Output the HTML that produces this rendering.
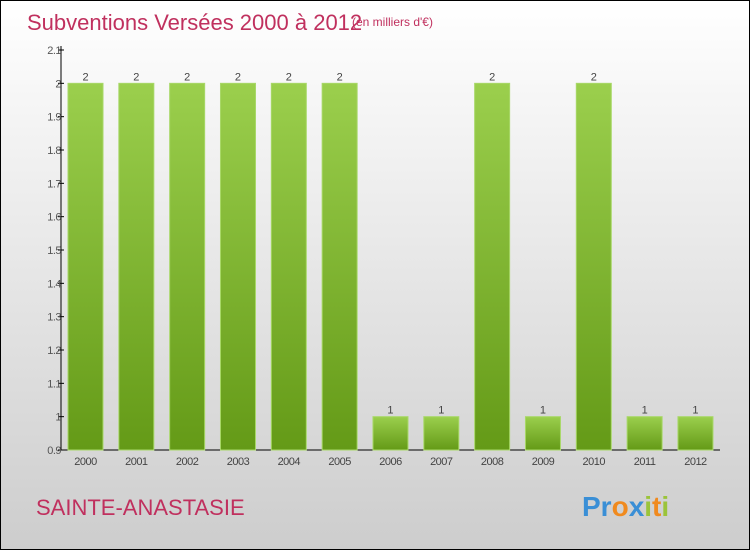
<!DOCTYPE html>
<html><head><meta charset="utf-8"><style>
body{margin:0}
svg{display:block;font-family:"Liberation Sans",sans-serif}
</style></head><body>
<svg width="750" height="550" viewBox="0 0 750 550">
<defs>
<linearGradient id="bg" x1="0" y1="0" x2="0" y2="1"><stop offset="0" stop-color="#ffffff"/><stop offset="1" stop-color="#cdcdcd"/></linearGradient>
<linearGradient id="bar" x1="0" y1="0" x2="0" y2="1"><stop offset="0" stop-color="#9bcf4d"/><stop offset="1" stop-color="#649a17"/></linearGradient>
</defs>
<rect x="0.5" y="0.5" width="749" height="549" fill="url(#bg)" stroke="#000"/>
<text x="27" y="30" font-size="22" fill="#c0305e">Subventions Versées 2000 à 2012</text>
<text x="352" y="26" font-size="12" fill="#c0305e">(en milliers d'€)</text>
<text x="36" y="515" font-size="22" fill="#c0305e">SAINTE-ANASTASIE</text>
<text x="582" y="516" font-size="28" font-weight="bold"><tspan fill="#3a8fd6">Pr</tspan><tspan fill="#f08a1e">o</tspan><tspan fill="#3a8fd6">x</tspan><tspan fill="#9bc43a">i</tspan><tspan fill="#f08a1e">t</tspan><tspan fill="#9bc43a">i</tspan></text>
<g id="axes"></g>
<g id="bars"></g>
</svg>
<script>
const years=["2000","2001","2002","2003","2004","2005","2006","2007","2008","2009","2010","2011","2012"];
const values=[2,2,2,2,2,2,1,1,2,1,2,1,1];
const yTicks=[0.9,1,1.1,1.2,1.3,1.4,1.5,1.6,1.7,1.8,1.9,2,2.1];
const yTickLabels=["0.9","1","1.1","1.2","1.3","1.4","1.5","1.6","1.7","1.8","1.9","2","2.1"];
const NS="http://www.w3.org/2000/svg";
const yMin=0.9,yMax=2.1,y0=450,y1=50;
function yS(v){return y0-(v-yMin)/(yMax-yMin)*(y0-y1);}
const x0=68,step=50.83,bw=35;
function xS(i){return x0+i*step;}
function mk(tag,attrs,parent){const e=document.createElementNS(NS,tag);for(const k in attrs)e.setAttribute(k,attrs[k]);parent.appendChild(e);return e;}
const ax=document.getElementById('axes'),bg=document.getElementById('bars');
let l=mk('line',{x1:61,y1:46,x2:61,y2:450,stroke:'#000','stroke-width':1},ax);


l=mk('line',{x1:61,y1:450,x2:720,y2:450,stroke:'#000','stroke-width':1},ax);


yTicks.forEach((v,i)=>{
 const y=yS(v);
 const t=mk('line',{x1:58,y1:y,x2:64,y2:y,stroke:'#000'},ax);
 
 
 const tx=mk('text',{x:61,y:y+4,'font-size':11,fill:'#555','text-anchor':'end','letter-spacing':'-0.5'},ax);
 tx.textContent=yTickLabels[i];
 
 
});
values.forEach((v,i)=>{
 const x=xS(i),y=yS(v);
 const r=mk('rect',{x:x,y:y,width:bw,height:y0-y,fill:'url(#bar)',stroke:'#a8d868','stroke-width':1},bg);
 
 
 const vt=mk('text',{x:x+bw/2,y:y-3,'font-size':11,fill:'#444','text-anchor':'middle'},bg);
 vt.textContent=String(v);
 
 
 const xt=mk('text',{x:x+bw/2,y:465,'font-size':11,fill:'#444','text-anchor':'middle','letter-spacing':'-0.5'},bg);
 xt.textContent=years[i];
 
 
});
</script>
</body></html>
